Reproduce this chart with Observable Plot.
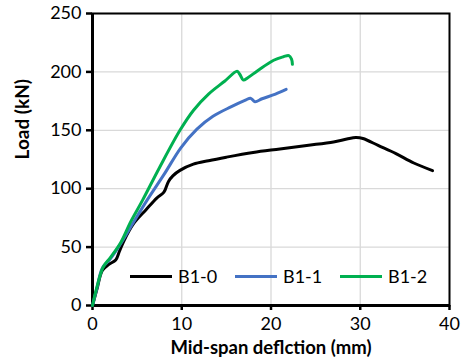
<!DOCTYPE html>
<html><head><meta charset="utf-8">
<script src="https://cdn.jsdelivr.net/npm/d3@7"></script>
<script src="https://cdn.jsdelivr.net/npm/@observablehq/plot@0.6"></script>
<style>
body{margin:0;background:#fff;font-family:Lato,"Open Sans",sans-serif;}
#wrap{position:relative;width:465px;height:360px;}
#legend .it{position:absolute;top:265px;display:flex;align-items:center;font-size:18px;color:#000;line-height:22px;}
#legend .sw{width:42px;height:3px;margin-right:6px;}
</style></head>
<body><div id="wrap"><div id="legend"></div></div>
<script>
const seriesNames = ["B1-0","B1-1","B1-2"];
const seriesColors = ["#000000","#4472C4","#00B050"];
const b10x = [0,0.5,1.1,1.8,2.6,3.0,3.5,4.6,6.0,7.2,8.0,8.5,9.0,9.8,11.3,13,15,18,21,24,27,28.5,29.5,30.3,32,34,36,38.1];
const b10y = [0,14,30,35,39,46,55,70,82,92,97,106,111,115.7,121,124,127,131,134,137,140,142.5,143.8,143,137,130,122,115.5];
const b11x = [0,0.5,1.1,2.0,3.0,4.5,6.1,8.0,9.9,11.7,13.5,15.5,17.2,17.7,18.2,19,20.5,21.7];
const b11y = [0,15,32,40,51,70,90,112,135,151,162,170,176,177.5,174.5,177,181,185];
const b12x = [0,0.5,1.2,2.0,3.1,4.3,5.6,7.5,9.8,11.3,13,14.8,16.2,16.5,16.9,17.4,18.5,20.3,21.4,22.0,22.3,22.4];
const b12y = [0,16,33,41,53,72,90,118,150,167,181,192,200.5,198,193,195,201,210,213,214,211,206.5];
const xTicks = [0,10,20,30,40];
const yTicks = [0,50,100,150,200,250];

const data = [];
[[b10x,b10y],[b11x,b11y],[b12x,b12y]].forEach(([xs,ys],i)=>xs.forEach((x,j)=>data.push({s:seriesNames[i],x,y:ys[j]})));

const chart = Plot.plot({
  width:465,height:360,
  marginLeft:92,marginRight:16,marginTop:13,marginBottom:55,
  style:{fontFamily:"Lato, 'Open Sans', sans-serif",fontSize:"18px",color:"#000",background:"#fff"},
  x:{domain:[0,40],ticks:xTicks,label:null},
  y:{domain:[0,250],ticks:yTicks,label:null},
  color:{domain:seriesNames,range:seriesColors},
  marks:[
    Plot.gridX(xTicks,{stroke:"#d9d9d9",strokeOpacity:1,strokeWidth:1.3}),
    Plot.gridY(yTicks,{stroke:"#d9d9d9",strokeOpacity:1,strokeWidth:1.3}),
    Plot.frame({stroke:"#000",strokeWidth:2}),
    Plot.axisX({ticks:xTicks,tickSize:5,tickPadding:7,fontSize:18,strokeWidth:2.5,label:null}),
    Plot.axisY({ticks:yTicks,tickSize:6,tickPadding:5,fontSize:18,strokeWidth:2.5,label:null}),
    Plot.ruleX([0],{stroke:"#000",strokeWidth:3}),
    Plot.ruleY([0],{stroke:"#000",strokeWidth:3}),
    Plot.line(data,{x:"x",y:"y",z:"s",stroke:"s",strokeWidth:3,curve:"catmull-rom"}),
    Plot.text(["Mid-span deflction (mm)"],{frameAnchor:"bottom",dy:48,text:d=>d,fontWeight:"bold",fontSize:18.5}),
    Plot.text(["Load (kN)"],{frameAnchor:"left",dx:-70,rotate:-90,text:d=>d,fontWeight:"bold",fontSize:19})
  ]
});
document.getElementById("wrap").prepend(chart);
const lg=document.getElementById("legend");
const legendLeft=[130,235,340];
seriesNames.forEach((n,i)=>{const it=document.createElement("div");it.className="it";it.style.left=legendLeft[i]+"px";
 it.innerHTML=`<span class="sw" style="background:${seriesColors[i]}"></span><span>${n}</span>`;lg.appendChild(it);});
</script></body></html>
